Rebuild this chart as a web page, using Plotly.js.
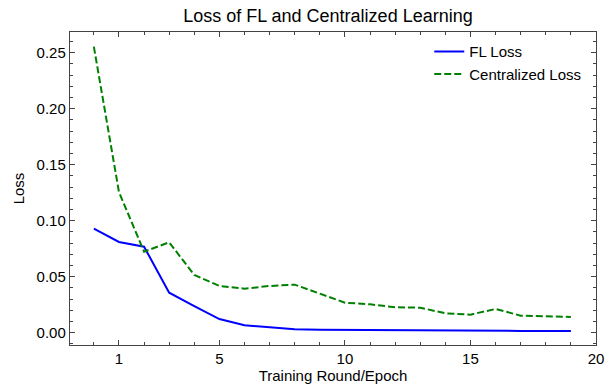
<!DOCTYPE html>
<html>
<head>
<meta charset="utf-8">
<script src="https://cdn.plot.ly/plotly-3.0.1.min.js"></script>
<style>html,body{margin:0;padding:0;background:#fff;}#chart{width:613px;height:390px;}</style>
</head>
<body>
<div id="chart"></div>
<script>
const rounds = [0,1,2,3,4,5,6,7,8,9,10,11,12,13,14,15,16,17,18,19];
const flLoss = [0.0929,0.0810,0.0768,0.0357,0.0238,0.0122,0.0066,0.0045,0.0030,0.0026,0.0024,0.0022,0.0021,0.0020,0.0019,0.0018,0.0017,0.0016,0.0016,0.0015];
const centralLoss = [0.2554,0.1256,0.0723,0.0807,0.0515,0.0417,0.0393,0.0417,0.0429,0.0352,0.0268,0.0253,0.0227,0.0223,0.0173,0.0161,0.0212,0.0152,0.0146,0.0140];
const xTickVals = [1,5,10,15,20];
const yTickVals = [0.00,0.05,0.10,0.15,0.20,0.25];

const font = {family:'"Liberation Sans", Arial, sans-serif', color:'#000', size:15};
const axisCommon = {
  showgrid:false, zeroline:false, showline:true, linecolor:'#444', linewidth:1.2,
  mirror:'allticks', ticks:'inside', ticklen:5, tickwidth:1, tickcolor:'#444',
  tickfont:{size:15, color:'#000'}
};
const data = [
  {x:rounds, y:flLoss, type:'scatter', mode:'lines', name:'FL Loss',
   line:{color:'#0000ff', width:2}},
  {x:rounds, y:centralLoss, type:'scatter', mode:'lines', name:'Centralized Loss',
   line:{color:'#008000', width:2, dash:'7px,3px'}}
];
const layout = {
  width:613, height:390,
  margin:{l:70, r:17, t:32, b:45},
  paper_bgcolor:'#fff', plot_bgcolor:'#fff',
  font:font,
  title:{text:'Loss of FL and Centralized Learning', font:{size:18, color:'#000'}, xref:'container', x:0.535, xanchor:'center', y:0.96, yanchor:'middle'},
  xaxis:Object.assign({}, axisCommon, {
    range:[-0.95, 20], tickmode:'array', tickvals:xTickVals, ticktext:xTickVals.map(String),
    minor:{dtick:1, tick0:0, ticks:'inside', ticklen:3, tickcolor:'#444', tickwidth:1},
    title:{text:'Training Round/Epoch', font:{size:15, color:'#000'}, standoff:4}
  }),
  yaxis:Object.assign({}, axisCommon, {
    range:[-0.011, 0.2685], tickmode:'array', tickvals:yTickVals, ticktext:yTickVals.map(v=>v.toFixed(2)),
    minor:{dtick:0.01, tick0:0, ticks:'inside', ticklen:3, tickcolor:'#444', tickwidth:1},
    title:{text:'Loss', font:{size:15, color:'#000'}, standoff:8}
  }),
  showlegend:true,
  legend:{x:0.683, xanchor:'left', y:0.99, yanchor:'top', bgcolor:'rgba(0,0,0,0)', borderwidth:0, font:{size:15, color:'#000'}, tracegroupgap:0}
};
Plotly.newPlot('chart', data, layout, {displayModeBar:false, staticPlot:true});
</script>
</body>
</html>
